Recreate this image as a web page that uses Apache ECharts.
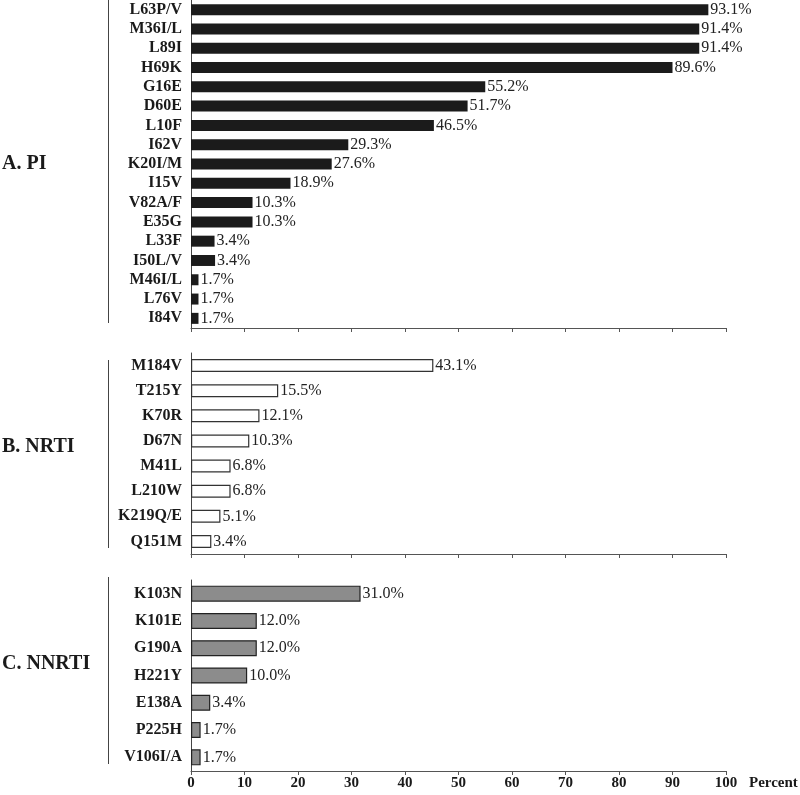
<!DOCTYPE html>
<html>
<head>
<meta charset="utf-8">
<script src="https://cdn.jsdelivr.net/npm/echarts@6/dist/echarts.min.js"></script>
<style>html,body{margin:0;padding:0;background:#fff;}#c{width:800px;height:795px;}</style>
</head>
<body>
<div id="c"></div>
<script>
// Panel A: PI
const piCats = ['L63P/V','M36I/L','L89I','H69K','G16E','D60E','L10F','I62V','K20I/M','I15V','V82A/F','E35G','L33F','I50L/V','M46I/L','L76V','I84V'];
const piValues = [96.7,95.0,95.0,90.0,55.0,51.7,45.4,29.4,26.3,18.6,11.5,11.5,4.4,4.5,1.4,1.4,1.4];
const piLabels = ['93.1%','91.4%','91.4%','89.6%','55.2%','51.7%','46.5%','29.3%','27.6%','18.9%','10.3%','10.3%','3.4%','3.4%','1.7%','1.7%','1.7%'];
// Panel B: NRTI
const nrtiCats = ['M184V','T215Y','K70R','D67N','M41L','L210W','K219Q/E','Q151M'];
const nrtiValues = [45.3,16.3,12.8,10.9,7.4,7.4,5.5,3.8];
const nrtiLabels = ['43.1%','15.5%','12.1%','10.3%','6.8%','6.8%','5.1%','3.4%'];
// Panel C: NNRTI
const nnrtiCats = ['K103N','K101E','G190A','H221Y','E138A','P225H','V106I/A'];
const nnrtiValues = [31.7,12.3,12.3,10.5,3.6,1.8,1.8];
const nnrtiLabels = ['31.0%','12.0%','12.0%','10.0%','3.4%','1.7%','1.7%'];
// Axis
const xTicks = [0,10,20,30,40,50,60,70,80,90,100];
const panelTitles = ['A. PI','B. NRTI','C. NNRTI'];
const axisName = 'Percent';

const SERIF = "'Liberation Serif','Times New Roman',serif";
const chart = echarts.init(document.getElementById('c'));

const grids = [
  {left:191, right:74, top:0, height:328},
  {left:191, right:74, top:353, height:201},
  {left:191, right:74, top:580, height:191}
];

function xAx(i, showLabels){
  return {
    gridIndex:i, type:'value', min:xTicks[0], max:xTicks[xTicks.length-1], interval:10,
    axisLine:{show:true, lineStyle:{color:'#555', width:1}},
    axisTick:{show:true, length:4, lineStyle:{color:'#555'}},
    splitLine:{show:false},
    axisLabel:{show:showLabels, fontFamily:SERIF, fontWeight:'bold', fontSize:15, color:'#1a1a1a', margin:5},
    name: showLabels ? axisName : '',
    nameLocation:'end', nameGap:23,
    nameTextStyle:{fontFamily:SERIF, fontWeight:'bold', fontSize:15, color:'#1a1a1a', verticalAlign:'top', align:'left', padding:[5,0,0,0]}
  };
}
function yAx(i, cats){
  return {
    gridIndex:i, type:'category', data:cats, inverse:true,
    axisLine:{show:true, lineStyle:{color:'#444', width:1}},
    axisTick:{show:false},
    axisLabel:{interval:0, fontFamily:SERIF, fontWeight:'bold', fontSize:16, color:'#1a1a1a', margin:9}
  };
}
function ser(i, vals, labels, fill, border, bw){
  return {
    type:'bar', xAxisIndex:i, yAxisIndex:i, data:vals, barWidth:bw,
    itemStyle:{color:fill, borderColor:border, borderWidth:border ? 1.2 : 0},
    label:{show:true, position:'right', distance:2, fontFamily:SERIF, fontSize:16, color:'#222',
      formatter:p => labels[p.dataIndex]},
    silent:true, animation:false
  };
}

const texts = [
  {y:165, t:panelTitles[0]},
  {y:448, t:panelTitles[1]},
  {y:665, t:panelTitles[2]}
];
const brackets = [[0,323],[360,548],[577,764]];

chart.setOption({
  animation:false,
  grid:grids,
  xAxis:[xAx(0,false), xAx(1,false), xAx(2,true)],
  yAxis:[yAx(0,piCats), yAx(1,nrtiCats), yAx(2,nnrtiCats)],
  series:[
    ser(0, piValues, piLabels, '#1b1b1b', null, 11),
    ser(1, nrtiValues, nrtiLabels, '#ffffff', '#333', 13),
    ser(2, nnrtiValues, nnrtiLabels, '#8c8c8c', '#222', 16)
  ],
  graphic: [
    ...texts.map(o => ({type:'text', left:2, top:o.y-11, style:{text:o.t, font:"bold 20px "+SERIF, fill:'#1a1a1a'}})),
    ...brackets.map(b => ({type:'line', shape:{x1:108.5, y1:b[0], x2:108.5, y2:b[1]}, style:{stroke:'#444', lineWidth:1}}))
  ]
});
</script>
</body>
</html>
